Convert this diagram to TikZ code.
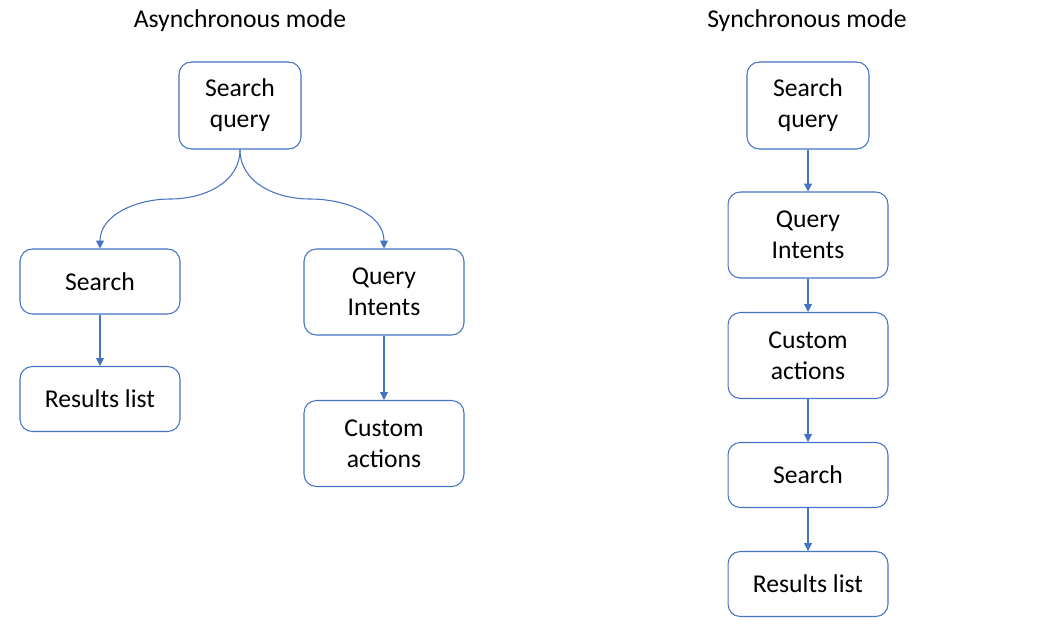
\documentclass[tikz,border=0pt]{standalone}
\usepackage{fontspec}
\setmainfont{Carlito}
\usepackage{tikz}
\usetikzlibrary{arrows.meta}
\usetikzlibrary{positioning}

\begin{document}
\begin{tikzpicture}[x=0.02cm,y=-0.02cm,
            box/.style={draw=boxblue,line width=0.6pt,rounded corners=7pt,align=center,font=\fontsize{14.6}{17.6}\selectfont,inner sep=0pt},
            smallbox/.style={box,minimum width=3.2cm,minimum height=1.3cm},
            tallbox/.style={box,minimum width=3.2cm,minimum height=1.72cm},
            querybox/.style={box,minimum width=2.44cm,minimum height=1.74cm},
            link/.style={draw=boxblue,line width=0.6pt,-{Triangle[length=4.5pt,width=4.5pt]}},
            title/.style={font=\fontsize{14.6}{17.6}\selectfont}]
            \definecolor{boxblue}{RGB}{68,114,196};
            \useasboundingbox (0,0) rectangle (1050,633);

            % asynchronous mode
            \node[title] (atitle) at (240,21) {Asynchronous mode};
            \node[querybox] (asq) at (240,105.5) {Search\\query};
            \node[smallbox] (as) at (100,281.5) {Search};
            \node[smallbox] (ares) at (100,399) {Results list};
            \node[tallbox] (aqi) at (384,292) {Query\\Intents};
            \node[tallbox] (aca) at (384,443.5) {Custom\\actions};

            \coordinate (bendl) at (170,199);
            \coordinate (bendr) at (310,199);
            \draw[link] (asq.south) to[out=-90,in=0] (bendl) to[out=180,in=90] (as.north);
            \draw[link] (asq.south) to[out=-90,in=180] (bendr) to[out=0,in=90] (aqi.north);
            \draw[link] (as) -- (ares);
            \draw[link] (aqi) -- (aca);

            % synchronous mode
            \node[title] (stitle) at (807,21) {Synchronous mode};
            \node[querybox] (ssq) at (808,105.5) {Search\\query};
            \node[tallbox] (sqi) at (808,235) {Query\\Intents};
            \node[tallbox] (sca) at (808,355.5) {Custom\\actions};
            \node[smallbox] (ss) at (808,475) {Search};
            \node[smallbox] (sres) at (808,584) {Results list};

            \draw[link] (ssq) -- (sqi);
            \draw[link] (sqi) -- (sca);
            \draw[link] (sca) -- (ss);
            \draw[link] (ss) -- (sres);
\end{tikzpicture}
\end{document}
